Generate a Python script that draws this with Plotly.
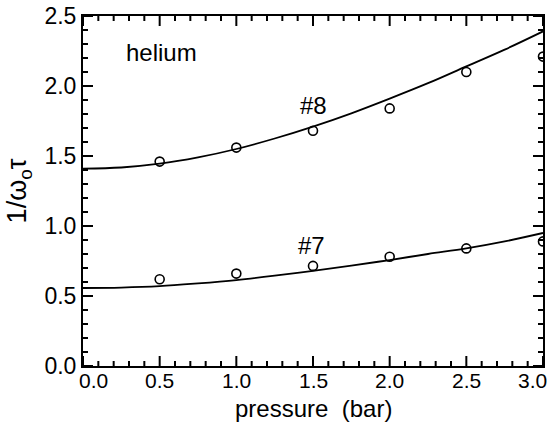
import plotly.graph_objects as go

# measured data points
pressure_pts = [0.5, 1.0, 1.5, 2.0, 2.5, 3.0]
run8_pts = [1.46, 1.56, 1.68, 1.84, 2.10, 2.21]
run7_pts = [0.62, 0.66, 0.715, 0.78, 0.84, 0.89]

# fitted curves
pressure_fit = [0.0, 0.25, 0.5, 0.75, 1.0, 1.25, 1.5, 1.75, 2.0, 2.25, 2.5, 2.75, 3.0]
run8_fit = [1.41, 1.418, 1.445, 1.49, 1.55, 1.625, 1.71, 1.805, 1.91, 2.02, 2.14, 2.26, 2.39]
run7_fit = [0.557, 0.56, 0.57, 0.59, 0.614, 0.645, 0.68, 0.717, 0.757, 0.80, 0.84, 0.89, 0.95]

# axis ticks
x_major = [0.0, 0.5, 1.0, 1.5, 2.0, 2.5, 3.0]
y_major = [0.0, 0.5, 1.0, 1.5, 2.0, 2.5]
x_minor = [i / 10 for i in range(0, 31) if i % 5]
y_minor = [i / 10 for i in range(0, 26) if i % 5]
x_labels = ["0.0", "0.5", "1.0", "1.5", "2.0", "2.5", "3.0"]

FONT = "Arial, Liberation Sans, sans-serif"
W, H = 557, 423
ML, MR, MT, MB = 83, 14, 16, 57
XR = [0, 3.0]
YR = [0, 2.5]
# data units per pixel, used to give tick marks a fixed pixel length
dx = (XR[1] - XR[0]) / (W - ML - MR)
dy = (YR[1] - YR[0]) / (H - MT - MB)

fig = go.Figure()

# tick marks (inside, on all four sides) drawn as layout shapes in data coordinates
def seg(x0, y0, x1, y1):
    fig.add_shape(type="line", xref="x", yref="y", x0=x0, y0=y0, x1=x1, y1=y1,
                  line=dict(color="black", width=2), layer="above")

for vals, length in ((x_major, 10), (x_minor, 5)):
    for v in vals:
        seg(v, YR[0], v, YR[0] + length * dy)
        seg(v, YR[1], v, YR[1] - length * dy)
for vals, length in ((y_major, 10), (y_minor, 5)):
    for v in vals:
        seg(XR[0], v, XR[0] + length * dx, v)
        seg(XR[1], v, XR[1] - length * dx, v)

for fit in (run8_fit, run7_fit):
    fig.add_trace(go.Scatter(x=pressure_fit, y=fit, mode="lines",
                             line=dict(color="black", width=1.8, shape="spline"),
                             showlegend=False, hoverinfo="skip"))
for pts in (run8_pts, run7_pts):
    fig.add_trace(go.Scatter(x=pressure_pts, y=pts, mode="markers",
                             marker=dict(symbol="circle-open", size=9, color="black",
                                         line=dict(width=1.6, color="black")),
                             showlegend=False))

fig.add_annotation(x=0.51, y=2.24, text="helium", showarrow=False,
                   font=dict(family=FONT, size=24, color="black"))
fig.add_annotation(x=1.50, y=1.86, text="#8", showarrow=False,
                   font=dict(family=FONT, size=24, color="black"))
fig.add_annotation(x=1.49, y=0.86, text="#7", showarrow=False,
                   font=dict(family=FONT, size=24, color="black"))

# x tick labels (end labels nudged inward as in the original)
for v, lab in zip(x_major, x_labels):
    shift = 10 if v == x_major[0] else (-11 if v == x_major[-1] else 0)
    fig.add_annotation(x=v, y=0, xref="x", yref="paper", text=lab, showarrow=False,
                       xanchor="center", yanchor="top", yshift=-2, xshift=shift,
                       borderpad=0, font=dict(family=FONT, size=21, color="black"))

# x axis title
fig.add_annotation(x=0.5, y=0, xref="paper", yref="paper", text="pressure  (bar)",
                   showarrow=False, xanchor="center", yanchor="top", yshift=-28,
                   borderpad=0, font=dict(family=FONT, size=24, color="black"))

axis_common = dict(showgrid=False, zeroline=False, showline=True, linecolor="black",
                   linewidth=2, mirror=True, ticks="", automargin=False)

fig.update_layout(
    width=W, height=H, margin=dict(l=ML, r=MR, t=MT, b=MB),
    paper_bgcolor="white", plot_bgcolor="white",
    xaxis=dict(range=XR, showticklabels=False, **axis_common),
    yaxis=dict(range=YR, tickvals=y_major, tickformat=".1f",
               tickfont=dict(family=FONT, size=23, color="black"),
               title=dict(text="1/ω<sub>o</sub>τ", standoff=10,
                          font=dict(family=FONT, size=27, color="black")), **axis_common),
)

fig.write_html("out.html")
